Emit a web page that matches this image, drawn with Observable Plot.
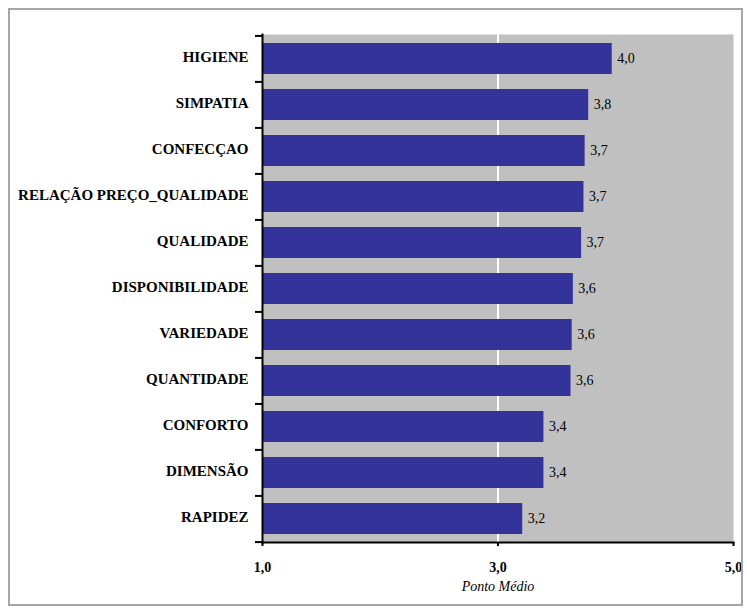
<!DOCTYPE html>
<html><head><meta charset="utf-8">
<script src="https://cdn.jsdelivr.net/npm/d3@7"></script>
<script src="https://cdn.jsdelivr.net/npm/@observablehq/plot@0.6"></script>
<style>
body{margin:0;background:#fff;}
#wrap{position:relative;width:747px;height:608px;}
#wrap svg{position:absolute;left:0;top:0;}
#wrap svg, #wrap svg text{font-family:"Liberation Serif","Times New Roman",Times,serif !important;}
#border{position:absolute;left:8px;top:8px;width:731px;height:594px;border:2px solid #a6a6a6;pointer-events:none;}
</style></head><body><div id="wrap"><div id="border"></div></div>
<script>
const categories = ["HIGIENE","SIMPATIA","CONFECÇAO","RELAÇÃO PREÇO_QUALIDADE","QUALIDADE","DISPONIBILIDADE","VARIEDADE","QUANTIDADE","CONFORTO","DIMENSÃO","RAPIDEZ"];
const values = [3.97,3.77,3.74,3.73,3.71,3.64,3.63,3.62,3.39,3.39,3.21];
const xTicks = [1,3,5];
const xLabel = "Ponto Médio";

const data = categories.map((c,i)=>({cat:c, value:values[i]}));
const fmt = v => v.toFixed(1).replace(".", ",");
const W = 747, H = 608, mT = 34, mB = 66, mL = 262, mR = 14;
const step = (H - mT - mB) / categories.length;

const chart = Plot.plot({
  width: W, height: H,
  marginTop: mT, marginBottom: mB, marginLeft: mL, marginRight: mR,
  style: {background: "transparent", color: "#000"},
  x: {domain: [1,5], ticks: xTicks, tickFormat: fmt},
  y: {domain: categories, paddingInner: 0.33, paddingOuter: 0.165, label: null},
  marks: [
    Plot.frame({fill: "#c0c0c0", stroke: "none"}),
    Plot.ruleX([3], {stroke: "#fff", strokeWidth: 2}),
    Plot.barX(data, {x1: 1, x2: "value", y: "cat", fill: "#333399"}),
    Plot.text(data, {x: "value", y: "cat", text: d => fmt(d.value), dx: 5, textAnchor: "start", fontSize: 14, fill: "#000"}),
    Plot.frame({anchor: "left", stroke: "#000", strokeWidth: 2}),
    Plot.frame({anchor: "bottom", stroke: "#000", strokeWidth: 2}),
    Plot.axisY({tickSize: 0, tickPadding: 14, dy: -2, fontSize: 15, fontWeight: "bold", label: null}),
    Plot.axisY({tickSize: 7, tickFormat: () => "", dy: -step/2, strokeWidth: 2, label: null}),
    Plot.axisY({ticks: [categories[categories.length-1]], tickSize: 7, tickFormat: () => "", dy: step/2, strokeWidth: 2, label: null}),
    Plot.axisX({ticks: xTicks, tickFormat: fmt, tickSize: 4, tickPadding: 16, strokeWidth: 2, fontSize: 14, fontWeight: "bold", label: null}),
    Plot.text([xLabel], {frameAnchor: "bottom", dy: 48, text: d => d, fontSize: 14, fontStyle: "italic", fill: "#000"})
  ]
});
document.getElementById("wrap").prepend(chart);
</script>
</body></html>
